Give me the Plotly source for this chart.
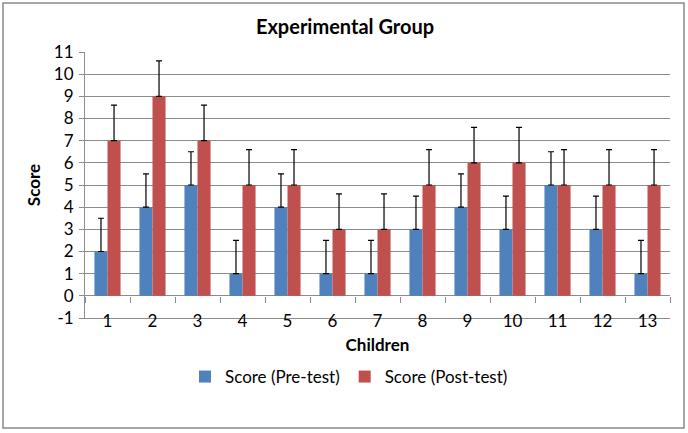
import plotly.graph_objects as go

children = list(range(1, 14))
tick_labels = [str(c) for c in children]
pre_test = [2, 4, 5, 1, 4, 1, 1, 3, 4, 3, 5, 3, 1]
post_test = [7, 9, 7, 5, 5, 3, 3, 5, 6, 6, 5, 5, 5]
pre_err = [1.5] * 13
post_err = [1.6] * 13
y_ticks = list(range(-1, 12))
y_tick_text = ["-1"] + [str(v) for v in range(0, 12)]
boundaries = [i + 0.5 for i in range(0, 14)]

FONT = "Lato"
GRID = "#8c8c8c"
L, R, T, B = 85, 18, 52, 115
PW, PH = 688 - L - R, 433 - T - B

fig = go.Figure()
fig.add_trace(go.Bar(
    x=children, y=pre_test, name="Score (Pre-test)",
    marker=dict(color="#4F81BD", line=dict(width=0)),
    error_y=dict(type="data", array=pre_err, arrayminus=[0] * 13, symmetric=False,
                 color="black", thickness=1.2, width=3),
))
fig.add_trace(go.Bar(
    x=children, y=post_test, name="Score (Post-test)",
    marker=dict(color="#C0504D", line=dict(width=0)),
    error_y=dict(type="data", array=post_err, arrayminus=[0] * 13, symmetric=False,
                 color="black", thickness=1.2, width=3),
))
fig.add_trace(go.Scatter(x=[1], y=[0], xaxis="x2", mode="markers",
                         marker=dict(opacity=0), showlegend=False, hoverinfo="skip"))

fig.update_layout(
    width=688, height=433,
    margin=dict(l=L, r=R, t=T, b=B, autoexpand=False),
    paper_bgcolor="white", plot_bgcolor="white",
    font=dict(family=FONT, size=17, color="black"),
    title=dict(text="<b>Experimental Group</b>", x=345 / 688, xanchor="center",
               y=1 - 27 / 433, yanchor="middle", font=dict(size=20, family=FONT)),
    barmode="group", bargap=0.42, bargroupgap=0,
    showlegend=True,
    legend=dict(orientation="h", x=(349 - L) / PW, xanchor="center",
                y=(433 - B - 377) / PH, yanchor="middle",
                font=dict(size=17), itemwidth=30, tracegroupgap=0),
    xaxis=dict(range=[0.5, 13.5], tickvals=children, ticktext=tick_labels,
               showgrid=False, zeroline=False, showline=True, linecolor=GRID, linewidth=1,
               ticks="", ticklabelstandoff=-12, tickfont=dict(size=17),
               title=dict(text="<b>Children</b>", standoff=8, font=dict(size=17))),
    xaxis2=dict(range=[0.5, 13.5], overlaying="x", anchor="free", position=1 / 12,
                side="bottom", tickvals=boundaries, showticklabels=False,
                ticks="outside", ticklen=6, tickcolor=GRID, showgrid=False,
                zeroline=False, showline=False),
    yaxis=dict(range=[-1, 11], tickvals=y_ticks, ticktext=y_tick_text,
               showgrid=True, gridcolor=GRID, gridwidth=1,
               zeroline=True, zerolinecolor=GRID, zerolinewidth=1,
               showline=True, linecolor=GRID, linewidth=1,
               ticks="outside", ticklen=5, tickcolor=GRID, tickfont=dict(size=17),
               ticklabelstandoff=2,
               title=dict(text="<b>Score</b>", standoff=8, font=dict(size=17))),
)

fig.add_shape(type="rect", xref="paper", yref="paper",
              x0=(3 - L) / PW, x1=(684 - L) / PW,
              y0=(433 - B - 428) / PH, y1=(433 - B - 3) / PH,
              line=dict(color="#8a8a8a", width=1.5), layer="below")

fig.write_html("out.html", config={"displayModeBar": False},
               post_script="document.body.style.margin='0';")
